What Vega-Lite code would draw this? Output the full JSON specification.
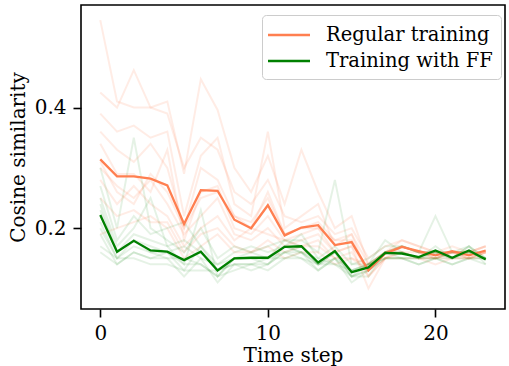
{
  "$schema": "https://vega.github.io/schema/vega-lite/v6.json",
  "width": 424,
  "height": 304,
  "autosize": {"type": "none"},
  "padding": {"left": 81, "top": 5, "right": 4, "bottom": 57},
  "background": "white",
  "config": {
    "font": "DejaVu Serif",
    "view": {"stroke": "black", "strokeWidth": 1.6},
    "axis": {
      "grid": false, "domain": false, "ticks": true, "tickColor": "black", "tickWidth": 1.6, "tickSize": 8,
      "labelFont": "DejaVu Serif", "labelFontSize": 20, "labelColor": "black",
      "titleFont": "DejaVu Serif", "titleFontSize": 20, "titleColor": "black", "titleFontWeight": "normal"
    },
    "legend": {"labelFont": "DejaVu Serif"}
  },
  "datasets": {
    "main": [
      {"t":0,"series":"Regular training","v":0.314},{"t":1,"series":"Regular training","v":0.286},{"t":2,"series":"Regular training","v":0.286},{"t":3,"series":"Regular training","v":0.282},{"t":4,"series":"Regular training","v":0.271},{"t":5,"series":"Regular training","v":0.207},{"t":6,"series":"Regular training","v":0.263},{"t":7,"series":"Regular training","v":0.262},{"t":8,"series":"Regular training","v":0.214},{"t":9,"series":"Regular training","v":0.200},{"t":10,"series":"Regular training","v":0.238},{"t":11,"series":"Regular training","v":0.188},{"t":12,"series":"Regular training","v":0.201},{"t":13,"series":"Regular training","v":0.205},{"t":14,"series":"Regular training","v":0.172},{"t":15,"series":"Regular training","v":0.177},{"t":16,"series":"Regular training","v":0.130},{"t":17,"series":"Regular training","v":0.158},{"t":18,"series":"Regular training","v":0.169},{"t":19,"series":"Regular training","v":0.162},{"t":20,"series":"Regular training","v":0.155},{"t":21,"series":"Regular training","v":0.162},{"t":22,"series":"Regular training","v":0.155},{"t":23,"series":"Regular training","v":0.163},
      {"t":0,"series":"Training with FF","v":0.222},{"t":1,"series":"Training with FF","v":0.161},{"t":2,"series":"Training with FF","v":0.179},{"t":3,"series":"Training with FF","v":0.163},{"t":4,"series":"Training with FF","v":0.161},{"t":5,"series":"Training with FF","v":0.147},{"t":6,"series":"Training with FF","v":0.161},{"t":7,"series":"Training with FF","v":0.130},{"t":8,"series":"Training with FF","v":0.150},{"t":9,"series":"Training with FF","v":0.151},{"t":10,"series":"Training with FF","v":0.151},{"t":11,"series":"Training with FF","v":0.169},{"t":12,"series":"Training with FF","v":0.170},{"t":13,"series":"Training with FF","v":0.143},{"t":14,"series":"Training with FF","v":0.162},{"t":15,"series":"Training with FF","v":0.127},{"t":16,"series":"Training with FF","v":0.135},{"t":17,"series":"Training with FF","v":0.159},{"t":18,"series":"Training with FF","v":0.158},{"t":19,"series":"Training with FF","v":0.152},{"t":20,"series":"Training with FF","v":0.163},{"t":21,"series":"Training with FF","v":0.151},{"t":22,"series":"Training with FF","v":0.163},{"t":23,"series":"Training with FF","v":0.148}
    ],
    "faint": [
      {"s":"o1","t":0,"v":0.545},{"s":"o1","t":1,"v":0.41},{"s":"o1","t":2,"v":0.40},{"s":"o1","t":3,"v":0.40},{"s":"o1","t":4,"v":0.39},{"s":"o1","t":5,"v":0.30},{"s":"o1","t":6,"v":0.35},{"s":"o1","t":7,"v":0.33},{"s":"o1","t":8,"v":0.26},{"s":"o1","t":9,"v":0.24},{"s":"o1","t":10,"v":0.28},{"s":"o1","t":11,"v":0.22},{"s":"o1","t":12,"v":0.21},{"s":"o1","t":13,"v":0.22},{"s":"o1","t":14,"v":0.19},{"s":"o1","t":15,"v":0.20},{"s":"o1","t":16,"v":0.15},{"s":"o1","t":17,"v":0.17},{"s":"o1","t":18,"v":0.18},{"s":"o1","t":19,"v":0.17},{"s":"o1","t":20,"v":0.16},{"s":"o1","t":21,"v":0.17},{"s":"o1","t":22,"v":0.16},{"s":"o1","t":23,"v":0.17},
      {"s":"o2","t":0,"v":0.425},{"s":"o2","t":1,"v":0.40},{"s":"o2","t":2,"v":0.462},{"s":"o2","t":3,"v":0.40},{"s":"o2","t":4,"v":0.41},{"s":"o2","t":5,"v":0.29},{"s":"o2","t":6,"v":0.447},{"s":"o2","t":7,"v":0.396},{"s":"o2","t":8,"v":0.30},{"s":"o2","t":9,"v":0.26},{"s":"o2","t":10,"v":0.32},{"s":"o2","t":11,"v":0.24},{"s":"o2","t":12,"v":0.33},{"s":"o2","t":13,"v":0.26},{"s":"o2","t":14,"v":0.20},{"s":"o2","t":15,"v":0.22},{"s":"o2","t":16,"v":0.14},{"s":"o2","t":17,"v":0.16},{"s":"o2","t":18,"v":0.17},{"s":"o2","t":19,"v":0.16},{"s":"o2","t":20,"v":0.16},{"s":"o2","t":21,"v":0.16},{"s":"o2","t":22,"v":0.15},{"s":"o2","t":23,"v":0.16},
      {"s":"o3","t":0,"v":0.39},{"s":"o3","t":1,"v":0.36},{"s":"o3","t":2,"v":0.37},{"s":"o3","t":3,"v":0.35},{"s":"o3","t":4,"v":0.36},{"s":"o3","t":5,"v":0.22},{"s":"o3","t":6,"v":0.32},{"s":"o3","t":7,"v":0.35},{"s":"o3","t":8,"v":0.24},{"s":"o3","t":9,"v":0.22},{"s":"o3","t":10,"v":0.36},{"s":"o3","t":11,"v":0.20},{"s":"o3","t":12,"v":0.22},{"s":"o3","t":13,"v":0.24},{"s":"o3","t":14,"v":0.17},{"s":"o3","t":15,"v":0.19},{"s":"o3","t":16,"v":0.12},{"s":"o3","t":17,"v":0.15},{"s":"o3","t":18,"v":0.17},{"s":"o3","t":19,"v":0.16},{"s":"o3","t":20,"v":0.15},{"s":"o3","t":21,"v":0.16},{"s":"o3","t":22,"v":0.15},{"s":"o3","t":23,"v":0.16},
      {"s":"o4","t":0,"v":0.36},{"s":"o4","t":1,"v":0.33},{"s":"o4","t":2,"v":0.31},{"s":"o4","t":3,"v":0.34},{"s":"o4","t":4,"v":0.30},{"s":"o4","t":5,"v":0.20},{"s":"o4","t":6,"v":0.30},{"s":"o4","t":7,"v":0.28},{"s":"o4","t":8,"v":0.22},{"s":"o4","t":9,"v":0.21},{"s":"o4","t":10,"v":0.25},{"s":"o4","t":11,"v":0.19},{"s":"o4","t":12,"v":0.20},{"s":"o4","t":13,"v":0.21},{"s":"o4","t":14,"v":0.18},{"s":"o4","t":15,"v":0.18},{"s":"o4","t":16,"v":0.13},{"s":"o4","t":17,"v":0.16},{"s":"o4","t":18,"v":0.18},{"s":"o4","t":19,"v":0.17},{"s":"o4","t":20,"v":0.16},{"s":"o4","t":21,"v":0.16},{"s":"o4","t":22,"v":0.16},{"s":"o4","t":23,"v":0.17},
      {"s":"o5","t":0,"v":0.34},{"s":"o5","t":1,"v":0.29},{"s":"o5","t":2,"v":0.29},{"s":"o5","t":3,"v":0.26},{"s":"o5","t":4,"v":0.33},{"s":"o5","t":5,"v":0.18},{"s":"o5","t":6,"v":0.26},{"s":"o5","t":7,"v":0.27},{"s":"o5","t":8,"v":0.20},{"s":"o5","t":9,"v":0.19},{"s":"o5","t":10,"v":0.22},{"s":"o5","t":11,"v":0.18},{"s":"o5","t":12,"v":0.19},{"s":"o5","t":13,"v":0.20},{"s":"o5","t":14,"v":0.16},{"s":"o5","t":15,"v":0.17},{"s":"o5","t":16,"v":0.10},{"s":"o5","t":17,"v":0.15},{"s":"o5","t":18,"v":0.16},{"s":"o5","t":19,"v":0.15},{"s":"o5","t":20,"v":0.15},{"s":"o5","t":21,"v":0.16},{"s":"o5","t":22,"v":0.15},{"s":"o5","t":23,"v":0.16},
      {"s":"o6","t":0,"v":0.30},{"s":"o6","t":1,"v":0.27},{"s":"o6","t":2,"v":0.25},{"s":"o6","t":3,"v":0.28},{"s":"o6","t":4,"v":0.24},{"s":"o6","t":5,"v":0.19},{"s":"o6","t":6,"v":0.22},{"s":"o6","t":7,"v":0.25},{"s":"o6","t":8,"v":0.19},{"s":"o6","t":9,"v":0.18},{"s":"o6","t":10,"v":0.20},{"s":"o6","t":11,"v":0.17},{"s":"o6","t":12,"v":0.18},{"s":"o6","t":13,"v":0.19},{"s":"o6","t":14,"v":0.16},{"s":"o6","t":15,"v":0.17},{"s":"o6","t":16,"v":0.13},{"s":"o6","t":17,"v":0.16},{"s":"o6","t":18,"v":0.17},{"s":"o6","t":19,"v":0.16},{"s":"o6","t":20,"v":0.15},{"s":"o6","t":21,"v":0.16},{"s":"o6","t":22,"v":0.16},{"s":"o6","t":23,"v":0.16},
      {"s":"o7","t":0,"v":0.28},{"s":"o7","t":1,"v":0.24},{"s":"o7","t":2,"v":0.27},{"s":"o7","t":3,"v":0.24},{"s":"o7","t":4,"v":0.22},{"s":"o7","t":5,"v":0.17},{"s":"o7","t":6,"v":0.20},{"s":"o7","t":7,"v":0.22},{"s":"o7","t":8,"v":0.18},{"s":"o7","t":9,"v":0.20},{"s":"o7","t":10,"v":0.19},{"s":"o7","t":11,"v":0.18},{"s":"o7","t":12,"v":0.17},{"s":"o7","t":13,"v":0.18},{"s":"o7","t":14,"v":0.15},{"s":"o7","t":15,"v":0.16},{"s":"o7","t":16,"v":0.12},{"s":"o7","t":17,"v":0.15},{"s":"o7","t":18,"v":0.16},{"s":"o7","t":19,"v":0.16},{"s":"o7","t":20,"v":0.15},{"s":"o7","t":21,"v":0.15},{"s":"o7","t":22,"v":0.15},{"s":"o7","t":23,"v":0.16},
      {"s":"o8","t":0,"v":0.25},{"s":"o8","t":1,"v":0.22},{"s":"o8","t":2,"v":0.23},{"s":"o8","t":3,"v":0.21},{"s":"o8","t":4,"v":0.21},{"s":"o8","t":5,"v":0.16},{"s":"o8","t":6,"v":0.19},{"s":"o8","t":7,"v":0.20},{"s":"o8","t":8,"v":0.17},{"s":"o8","t":9,"v":0.16},{"s":"o8","t":10,"v":0.18},{"s":"o8","t":11,"v":0.16},{"s":"o8","t":12,"v":0.17},{"s":"o8","t":13,"v":0.17},{"s":"o8","t":14,"v":0.15},{"s":"o8","t":15,"v":0.15},{"s":"o8","t":16,"v":0.14},{"s":"o8","t":17,"v":0.16},{"s":"o8","t":18,"v":0.16},{"s":"o8","t":19,"v":0.15},{"s":"o8","t":20,"v":0.15},{"s":"o8","t":21,"v":0.16},{"s":"o8","t":22,"v":0.16},{"s":"o8","t":23,"v":0.16},
      {"s":"o9","t":0,"v":0.19},{"s":"o9","t":1,"v":0.20},{"s":"o9","t":2,"v":0.21},{"s":"o9","t":3,"v":0.22},{"s":"o9","t":4,"v":0.20},{"s":"o9","t":5,"v":0.15},{"s":"o9","t":6,"v":0.17},{"s":"o9","t":7,"v":0.19},{"s":"o9","t":8,"v":0.16},{"s":"o9","t":9,"v":0.16},{"s":"o9","t":10,"v":0.17},{"s":"o9","t":11,"v":0.15},{"s":"o9","t":12,"v":0.16},{"s":"o9","t":13,"v":0.16},{"s":"o9","t":14,"v":0.14},{"s":"o9","t":15,"v":0.15},{"s":"o9","t":16,"v":0.13},{"s":"o9","t":17,"v":0.15},{"s":"o9","t":18,"v":0.15},{"s":"o9","t":19,"v":0.15},{"s":"o9","t":20,"v":0.14},{"s":"o9","t":21,"v":0.15},{"s":"o9","t":22,"v":0.15},{"s":"o9","t":23,"v":0.15},
      {"s":"o10","t":0,"v":0.31},{"s":"o10","t":1,"v":0.26},{"s":"o10","t":2,"v":0.24},{"s":"o10","t":3,"v":0.29},{"s":"o10","t":4,"v":0.26},{"s":"o10","t":5,"v":0.20},{"s":"o10","t":6,"v":0.25},{"s":"o10","t":7,"v":0.26},{"s":"o10","t":8,"v":0.22},{"s":"o10","t":9,"v":0.20},{"s":"o10","t":10,"v":0.26},{"s":"o10","t":11,"v":0.19},{"s":"o10","t":12,"v":0.20},{"s":"o10","t":13,"v":0.20},{"s":"o10","t":14,"v":0.18},{"s":"o10","t":15,"v":0.19},{"s":"o10","t":16,"v":0.14},{"s":"o10","t":17,"v":0.16},{"s":"o10","t":18,"v":0.17},{"s":"o10","t":19,"v":0.16},{"s":"o10","t":20,"v":0.16},{"s":"o10","t":21,"v":0.16},{"s":"o10","t":22,"v":0.16},{"s":"o10","t":23,"v":0.17},
      {"s":"g1","t":0,"v":0.30},{"s":"g1","t":1,"v":0.20},{"s":"g1","t":2,"v":0.35},{"s":"g1","t":3,"v":0.20},{"s":"g1","t":4,"v":0.18},{"s":"g1","t":5,"v":0.16},{"s":"g1","t":6,"v":0.20},{"s":"g1","t":7,"v":0.15},{"s":"g1","t":8,"v":0.17},{"s":"g1","t":9,"v":0.16},{"s":"g1","t":10,"v":0.17},{"s":"g1","t":11,"v":0.18},{"s":"g1","t":12,"v":0.18},{"s":"g1","t":13,"v":0.16},{"s":"g1","t":14,"v":0.28},{"s":"g1","t":15,"v":0.14},{"s":"g1","t":16,"v":0.15},{"s":"g1","t":17,"v":0.17},{"s":"g1","t":18,"v":0.17},{"s":"g1","t":19,"v":0.16},{"s":"g1","t":20,"v":0.22},{"s":"g1","t":21,"v":0.16},{"s":"g1","t":22,"v":0.17},{"s":"g1","t":23,"v":0.15},
      {"s":"g2","t":0,"v":0.27},{"s":"g2","t":1,"v":0.18},{"s":"g2","t":2,"v":0.22},{"s":"g2","t":3,"v":0.19},{"s":"g2","t":4,"v":0.20},{"s":"g2","t":5,"v":0.21},{"s":"g2","t":6,"v":0.17},{"s":"g2","t":7,"v":0.14},{"s":"g2","t":8,"v":0.16},{"s":"g2","t":9,"v":0.17},{"s":"g2","t":10,"v":0.16},{"s":"g2","t":11,"v":0.17},{"s":"g2","t":12,"v":0.19},{"s":"g2","t":13,"v":0.15},{"s":"g2","t":14,"v":0.17},{"s":"g2","t":15,"v":0.14},{"s":"g2","t":16,"v":0.14},{"s":"g2","t":17,"v":0.18},{"s":"g2","t":18,"v":0.16},{"s":"g2","t":19,"v":0.15},{"s":"g2","t":20,"v":0.17},{"s":"g2","t":21,"v":0.15},{"s":"g2","t":22,"v":0.16},{"s":"g2","t":23,"v":0.15},
      {"s":"g3","t":0,"v":0.25},{"s":"g3","t":1,"v":0.17},{"s":"g3","t":2,"v":0.20},{"s":"g3","t":3,"v":0.25},{"s":"g3","t":4,"v":0.17},{"s":"g3","t":5,"v":0.14},{"s":"g3","t":6,"v":0.23},{"s":"g3","t":7,"v":0.12},{"s":"g3","t":8,"v":0.15},{"s":"g3","t":9,"v":0.15},{"s":"g3","t":10,"v":0.15},{"s":"g3","t":11,"v":0.16},{"s":"g3","t":12,"v":0.17},{"s":"g3","t":13,"v":0.14},{"s":"g3","t":14,"v":0.16},{"s":"g3","t":15,"v":0.12},{"s":"g3","t":16,"v":0.13},{"s":"g3","t":17,"v":0.16},{"s":"g3","t":18,"v":0.17},{"s":"g3","t":19,"v":0.16},{"s":"g3","t":20,"v":0.16},{"s":"g3","t":21,"v":0.15},{"s":"g3","t":22,"v":0.17},{"s":"g3","t":23,"v":0.14},
      {"s":"g4","t":0,"v":0.23},{"s":"g4","t":1,"v":0.16},{"s":"g4","t":2,"v":0.18},{"s":"g4","t":3,"v":0.17},{"s":"g4","t":4,"v":0.16},{"s":"g4","t":5,"v":0.13},{"s":"g4","t":6,"v":0.17},{"s":"g4","t":7,"v":0.13},{"s":"g4","t":8,"v":0.14},{"s":"g4","t":9,"v":0.14},{"s":"g4","t":10,"v":0.15},{"s":"g4","t":11,"v":0.15},{"s":"g4","t":12,"v":0.16},{"s":"g4","t":13,"v":0.13},{"s":"g4","t":14,"v":0.15},{"s":"g4","t":15,"v":0.13},{"s":"g4","t":16,"v":0.14},{"s":"g4","t":17,"v":0.15},{"s":"g4","t":18,"v":0.15},{"s":"g4","t":19,"v":0.14},{"s":"g4","t":20,"v":0.15},{"s":"g4","t":21,"v":0.14},{"s":"g4","t":22,"v":0.15},{"s":"g4","t":23,"v":0.15},
      {"s":"g5","t":0,"v":0.21},{"s":"g5","t":1,"v":0.15},{"s":"g5","t":2,"v":0.17},{"s":"g5","t":3,"v":0.16},{"s":"g5","t":4,"v":0.15},{"s":"g5","t":5,"v":0.12},{"s":"g5","t":6,"v":0.15},{"s":"g5","t":7,"v":0.11},{"s":"g5","t":8,"v":0.14},{"s":"g5","t":9,"v":0.13},{"s":"g5","t":10,"v":0.14},{"s":"g5","t":11,"v":0.16},{"s":"g5","t":12,"v":0.15},{"s":"g5","t":13,"v":0.14},{"s":"g5","t":14,"v":0.15},{"s":"g5","t":15,"v":0.11},{"s":"g5","t":16,"v":0.13},{"s":"g5","t":17,"v":0.15},{"s":"g5","t":18,"v":0.15},{"s":"g5","t":19,"v":0.15},{"s":"g5","t":20,"v":0.16},{"s":"g5","t":21,"v":0.15},{"s":"g5","t":22,"v":0.16},{"s":"g5","t":23,"v":0.15},
      {"s":"g6","t":0,"v":0.19},{"s":"g6","t":1,"v":0.14},{"s":"g6","t":2,"v":0.16},{"s":"g6","t":3,"v":0.15},{"s":"g6","t":4,"v":0.16},{"s":"g6","t":5,"v":0.14},{"s":"g6","t":6,"v":0.14},{"s":"g6","t":7,"v":0.12},{"s":"g6","t":8,"v":0.15},{"s":"g6","t":9,"v":0.15},{"s":"g6","t":10,"v":0.14},{"s":"g6","t":11,"v":0.17},{"s":"g6","t":12,"v":0.16},{"s":"g6","t":13,"v":0.15},{"s":"g6","t":14,"v":0.14},{"s":"g6","t":15,"v":0.12},{"s":"g6","t":16,"v":0.12},{"s":"g6","t":17,"v":0.16},{"s":"g6","t":18,"v":0.15},{"s":"g6","t":19,"v":0.14},{"s":"g6","t":20,"v":0.15},{"s":"g6","t":21,"v":0.14},{"s":"g6","t":22,"v":0.15},{"s":"g6","t":23,"v":0.14},
      {"s":"g7","t":0,"v":0.17},{"s":"g7","t":1,"v":0.15},{"s":"g7","t":2,"v":0.15},{"s":"g7","t":3,"v":0.14},{"s":"g7","t":4,"v":0.14},{"s":"g7","t":5,"v":0.13},{"s":"g7","t":6,"v":0.13},{"s":"g7","t":7,"v":0.13},{"s":"g7","t":8,"v":0.14},{"s":"g7","t":9,"v":0.14},{"s":"g7","t":10,"v":0.14},{"s":"g7","t":11,"v":0.16},{"s":"g7","t":12,"v":0.16},{"s":"g7","t":13,"v":0.14},{"s":"g7","t":14,"v":0.14},{"s":"g7","t":15,"v":0.13},{"s":"g7","t":16,"v":0.14},{"s":"g7","t":17,"v":0.15},{"s":"g7","t":18,"v":0.15},{"s":"g7","t":19,"v":0.15},{"s":"g7","t":20,"v":0.15},{"s":"g7","t":21,"v":0.15},{"s":"g7","t":22,"v":0.15},{"s":"g7","t":23,"v":0.15},
      {"s":"g8","t":0,"v":0.16},{"s":"g8","t":1,"v":0.14},{"s":"g8","t":2,"v":0.16},{"s":"g8","t":3,"v":0.15},{"s":"g8","t":4,"v":0.15},{"s":"g8","t":5,"v":0.15},{"s":"g8","t":6,"v":0.14},{"s":"g8","t":7,"v":0.12},{"s":"g8","t":8,"v":0.13},{"s":"g8","t":9,"v":0.14},{"s":"g8","t":10,"v":0.13},{"s":"g8","t":11,"v":0.15},{"s":"g8","t":12,"v":0.15},{"s":"g8","t":13,"v":0.13},{"s":"g8","t":14,"v":0.15},{"s":"g8","t":15,"v":0.12},{"s":"g8","t":16,"v":0.14},{"s":"g8","t":17,"v":0.16},{"s":"g8","t":18,"v":0.16},{"s":"g8","t":19,"v":0.15},{"s":"g8","t":20,"v":0.15},{"s":"g8","t":21,"v":0.16},{"s":"g8","t":22,"v":0.16},{"s":"g8","t":23,"v":0.15},
      {"s":"g9","t":0,"v":0.24},{"s":"g9","t":1,"v":0.16},{"s":"g9","t":2,"v":0.19},{"s":"g9","t":3,"v":0.18},{"s":"g9","t":4,"v":0.17},{"s":"g9","t":5,"v":0.18},{"s":"g9","t":6,"v":0.16},{"s":"g9","t":7,"v":0.13},{"s":"g9","t":8,"v":0.15},{"s":"g9","t":9,"v":0.15},{"s":"g9","t":10,"v":0.15},{"s":"g9","t":11,"v":0.18},{"s":"g9","t":12,"v":0.17},{"s":"g9","t":13,"v":0.14},{"s":"g9","t":14,"v":0.16},{"s":"g9","t":15,"v":0.13},{"s":"g9","t":16,"v":0.14},{"s":"g9","t":17,"v":0.16},{"s":"g9","t":18,"v":0.16},{"s":"g9","t":19,"v":0.15},{"s":"g9","t":20,"v":0.16},{"s":"g9","t":21,"v":0.15},{"s":"g9","t":22,"v":0.17},{"s":"g9","t":23,"v":0.15},
      {"s":"g10","t":0,"v":0.20},{"s":"g10","t":1,"v":0.15},{"s":"g10","t":2,"v":0.18},{"s":"g10","t":3,"v":0.16},{"s":"g10","t":4,"v":0.16},{"s":"g10","t":5,"v":0.17},{"s":"g10","t":6,"v":0.15},{"s":"g10","t":7,"v":0.14},{"s":"g10","t":8,"v":0.15},{"s":"g10","t":9,"v":0.16},{"s":"g10","t":10,"v":0.15},{"s":"g10","t":11,"v":0.17},{"s":"g10","t":12,"v":0.16},{"s":"g10","t":13,"v":0.14},{"s":"g10","t":14,"v":0.16},{"s":"g10","t":15,"v":0.12},{"s":"g10","t":16,"v":0.13},{"s":"g10","t":17,"v":0.16},{"s":"g10","t":18,"v":0.17},{"s":"g10","t":19,"v":0.16},{"s":"g10","t":20,"v":0.16},{"s":"g10","t":21,"v":0.16},{"s":"g10","t":22,"v":0.16},{"s":"g10","t":23,"v":0.15}
    ]
  },
  "encoding": {
    "x": {"field": "t", "type": "quantitative", "scale": {"domain": [-1.15, 24.15], "nice": false, "zero": false},
          "axis": {"values": [0, 10, 20], "title": "Time step", "labelPadding": 6, "titlePadding": 2, "labelFlush": false}},
    "y": {"field": "v", "type": "quantitative", "scale": {"domain": [0.066, 0.57], "nice": false, "zero": false},
          "axis": {"values": [0.2, 0.4], "format": ".1f", "title": "Cosine similarity", "labelPadding": 7, "titlePadding": 6, "labelFlush": false}}
  },
  "layer": [
    {
      "data": {"name": "faint"},
      "transform": [{"filter": "test(/^o/, datum.s)"}],
      "mark": {"type": "line", "color": "#ff7f50", "opacity": 0.15, "strokeWidth": 2, "clip": true},
      "encoding": {"detail": {"field": "s"}}
    },
    {
      "data": {"name": "faint"},
      "transform": [{"filter": "test(/^g/, datum.s)"}],
      "mark": {"type": "line", "color": "#008000", "opacity": 0.1, "strokeWidth": 2, "clip": true},
      "encoding": {"detail": {"field": "s"}}
    },
    {
      "data": {"name": "main"},
      "mark": {"type": "line", "strokeWidth": 2.3, "clip": true},
      "encoding": {
        "color": {"field": "series", "type": "nominal",
          "scale": {"domain": ["Regular training", "Training with FF"], "range": ["#ff7f50", "#008000"]},
          "legend": {"title": null, "orient": "none", "legendX": 181, "legendY": 10,
            "symbolType": "M-2,0H2", "symbolSize": 441, "symbolStrokeWidth": 2.3, "symbolOffset": 7,
            "labelFontSize": 19.5, "labelColor": "black", "labelOffset": 25, "labelLimit": 0, "rowPadding": 4,
            "padding": 8, "strokeColor": "#cccccc", "cornerRadius": 4, "fillColor": "white"}}
      }
    }
  ]
}
